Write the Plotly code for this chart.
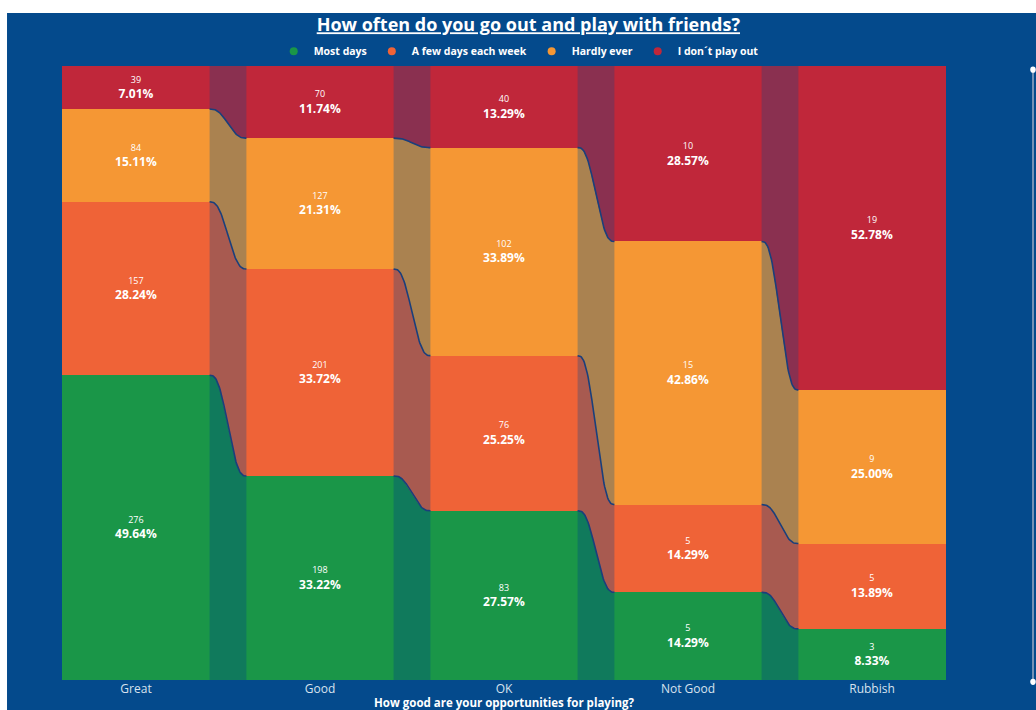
import numpy as np
import plotly.graph_objects as go

# ---------------- data ----------------
categories = ["Great", "Good", "OK", "Not Good", "Rubbish"]
most_days = [276, 198, 83, 5, 3]
few_days = [157, 201, 76, 5, 5]
hardly_ever = [84, 127, 102, 15, 9]
dont_play = [39, 70, 40, 10, 19]

series_names = ["Most days", "A few days each week", "Hardly ever", "I don\u00b4t play out"]
series_counts = [most_days, few_days, hardly_ever, dont_play]

# ---------------- styles ----------------
BG = "#044A8C"
bar_colors = ["#1A9648", "#EF6337", "#F59734", "#C0273A"]
ribbon_colors = ["#107A5C", "#A85A50", "#AA8250", "#8A3050"]
edge_color = "#1A3F7C"
FONT = "Open Sans, DejaVu Sans, sans-serif"
BAR_W = 0.8

xs = np.arange(len(categories))
counts = np.array(series_counts, dtype=float)
totals = counts.sum(axis=0)
pcts = counts / totals * 100.0
cum_low = np.vstack([np.zeros(len(categories)), np.cumsum(pcts, axis=0)[:-1]])
cum_high = cum_low + pcts

fig = go.Figure()

# ribbons between columns
t = np.linspace(0, 1, 50)
ease = 6 * t**5 - 15 * t**4 + 10 * t**3
for i in range(len(categories) - 1):
    xa = xs[i] + BAR_W / 2
    xb = xs[i + 1] - BAR_W / 2
    xc = xa + (xb - xa) * t
    for s in range(len(series_names)):
        lo = cum_low[s, i] + (cum_low[s, i + 1] - cum_low[s, i]) * ease
        hi = cum_high[s, i] + (cum_high[s, i + 1] - cum_high[s, i]) * ease
        fig.add_trace(go.Scatter(
            x=np.concatenate([xc, xc[::-1]]),
            y=np.concatenate([hi, lo[::-1]]),
            mode="lines", fill="toself", fillcolor=ribbon_colors[s],
            line=dict(width=0), hoverinfo="skip", showlegend=False))
    for s in range(len(series_names) - 1):
        hi = cum_high[s, i] + (cum_high[s, i + 1] - cum_high[s, i]) * ease
        fig.add_trace(go.Scatter(
            x=xc, y=hi, mode="lines",
            line=dict(width=1.6, color=edge_color),
            hoverinfo="skip", showlegend=False))

# stacked 100% columns
for s, name in enumerate(series_names):
    labels = [f"<span style='font-size:9px'>{int(c)}</span><br><b>{p:.2f}%</b>"
              for c, p in zip(counts[s], pcts[s])]
    fig.add_trace(go.Bar(
        x=xs, y=pcts[s], width=BAR_W, name=name,
        marker=dict(color=bar_colors[s], line=dict(width=0)),
        text=labels, textposition="inside", insidetextanchor="middle",
        textangle=0, textfont=dict(color="white", size=12, family=FONT),
        hoverinfo="skip", showlegend=False))

# legend entries with round markers
for s, name in enumerate(series_names):
    fig.add_trace(go.Scatter(
        x=[None], y=[None], mode="markers", name=name,
        marker=dict(symbol="circle", size=8, color=bar_colors[s])))

fig.update_layout(
    width=1036, height=710,
    paper_bgcolor="white", plot_bgcolor=BG,
    barmode="stack",
    margin=dict(l=44, r=72, t=66, b=30, autoexpand=False),
    font=dict(family=FONT, color="white"),
    title=dict(text="<b><u>How often do you go out and play with friends?</u></b>",
               x=0.51, xref="container", xanchor="center",
               y=1 - 25 / 710, yref="container", yanchor="middle",
               font=dict(size=18, color="white", family=FONT)),
    legend=dict(orientation="h", x=0.516, xanchor="center", y=1.024, yanchor="middle",
                bgcolor="rgba(0,0,0,0)",
                font=dict(size=10.5, color="white", family=FONT, weight="bold"),
                itemwidth=30, traceorder="normal", itemclick=False),
    xaxis=dict(range=[-0.5, 4.5], tickvals=xs, ticktext=categories,
               showgrid=False, zeroline=False, showline=False, ticks="",
               automargin=False,
               tickfont=dict(size=12, color="#D8E2EE", family=FONT),
               title=dict(text="<b>How good are your opportunities for playing?</b>",
                          font=dict(size=11.5, color="white", family=FONT), standoff=2),
               fixedrange=True),
    yaxis=dict(range=[0, 100], visible=False, fixedrange=True),
    shapes=[
        dict(type="rect", xref="paper", yref="paper", x0=-0.0402, x1=1.2, y0=-0.2, y1=1.0863,
             fillcolor=BG, line=dict(width=0), layer="below"),
        dict(type="line", xref="paper", yref="paper", x0=1.075, x1=1.075, y0=-0.003, y1=0.994,
             line=dict(color="#9AAAC4", width=1.5)),
        dict(type="circle", xref="paper", yref="paper", x0=1.072, x1=1.078, y0=0.989, y1=0.999,
             fillcolor="white", line=dict(width=0)),
        dict(type="circle", xref="paper", yref="paper", x0=1.072, x1=1.078, y0=-0.008, y1=0.002,
             fillcolor="white", line=dict(width=0)),
    ],
)

fig.write_html("out.html")
